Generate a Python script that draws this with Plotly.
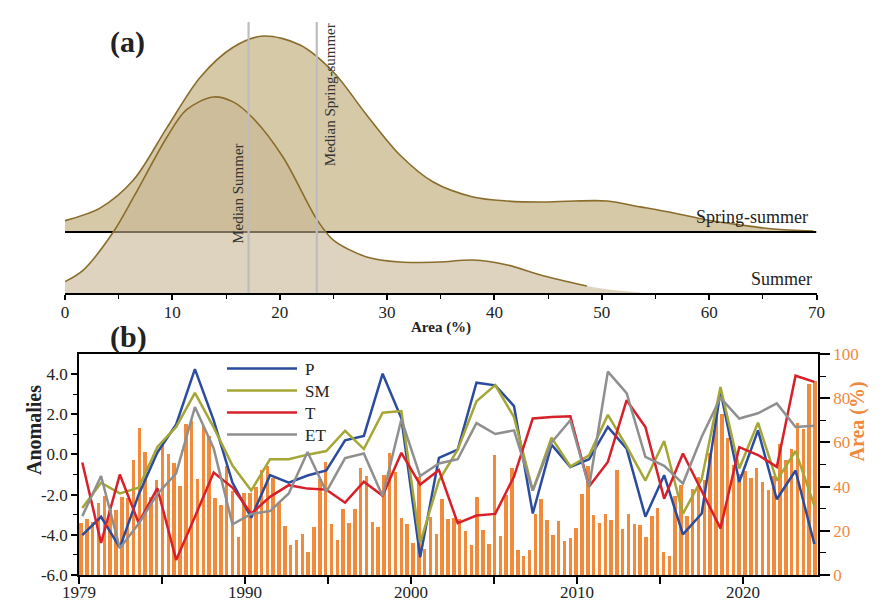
import plotly.graph_objects as go

# ---------------- Panel (a): ridgeline densities (heights normalised to peak) ----------------
spring_x = [0, 3.26, 6.37, 9.47, 12.6, 15.7, 18.5, 21.9, 25.0, 28.1, 31.2, 34.3, 38.0, 41.2,
            44.3, 47.4, 50.5, 53.6, 56.7, 59.8, 62.9, 66.0, 69.7]
spring_density = [0.058, 0.122, 0.265, 0.53, 0.79, 0.944, 1.0, 0.954, 0.816, 0.597, 0.393, 0.255,
                  0.179, 0.158, 0.153, 0.158, 0.158, 0.128, 0.097, 0.061, 0.036, 0.015, 0.005]
summer_x = [0, 1.7, 4.5, 6.4, 9.5, 11.3, 13.8, 15.7, 17.5, 20.3, 23.5, 25.0, 28.1, 31.2, 34.9,
            38.0, 41.2, 44.3, 48.6, 51.0, 53.6]
summer_density = [0.058, 0.117, 0.311, 0.49, 0.796, 0.934, 1.0, 0.974, 0.893, 0.694, 0.372, 0.27,
                  0.184, 0.158, 0.158, 0.168, 0.143, 0.092, 0.036, 0.015, 0.003]
summer_outline_end = 48.6
median_summer = 17.1
median_spring_summer = 23.45
area_ticks = [0, 10, 20, 30, 40, 50, 60, 70]

# ---------------- Panel (b): anomalies (lines) and area (bars) ----------------
year_tick_pos = [0, 10, 20, 30, 40]
year_tick_labels = ["1979", "1990", "2000", "2010", "2020"]
P = [-4.02, -3.10, -4.64, -2.0, 0.1, 1.5, 4.25, 1.7, -1.4, -3.15,
     -1.03, -1.40, -1.05, -0.79, 0.70, 0.92, 4.02, 1.8, -5.12, -0.17,
     0.24, 3.57, 3.44, 2.41, -2.94, 0.49, -0.62, -0.24, 1.37, 0.29,
     -3.1, -1.03, -3.98, -2.94, 3.14, -1.37, 1.2, -2.23, -0.8, -4.46]
SM = [-2.66, -1.41, -1.94, -1.66, 0.37, 1.37, 3.07, 1.35, -0.55, -1.8,
      -0.24, -0.24, -0.01, 0.17, 1.18, 0.27, 2.08, 2.16, -4.4, -1.3,
      0.24, 2.65, 3.45, 1.86, -1.8, 0.84, -0.6, -0.04, 1.97, 0.4,
      -1.3, 0.67, -2.95, -1.23, 3.36, -0.7, 1.58, -1.3, 0.17, -2.55]
T = [-0.4, -4.4, -1.0, -3.4, -1.68, -5.25, -3.1, -0.9, -1.65, -2.95,
     -2.11, -1.53, -1.7, -1.75, -2.4, -1.36, -2.06, 0.08, -1.5, -0.78,
     -3.42, -3.04, -2.96, -1.1, 1.79, 1.87, 1.9, -1.6, -0.37, 2.7,
     1.37, -2.2, 0.05, -1.8, -3.68, 0.36, -0.03, -0.62, 3.92, 3.61]
ET = [-3.07, -1.07, -4.67, -3.45, -1.97, -0.94, 2.36, 0.3, -3.48, -2.96,
      -2.82, -1.94, 0.12, -1.86, -0.18, 0.05, -2.08, 1.75, -1.08, -0.45,
      -0.24, 1.56, 1.02, 1.2, -1.8, 0.6, 1.7, -1.61, 4.12, 3.05,
      -0.12, -0.57, -1.45, 0.88, 2.82, 1.79, 2.05, 2.54, 1.37, 1.43]
area_pct = [23.5, 25.3, 24.2, 32.6, 35.9, 29.5, 29.5, 35.5, 34.8, 52,
            66.5, 55.8, 35.5, 43, 59, 54.7, 50.5, 40.4, 68.4, 69.5,
            43.3, 67.5, 63, 34.9, 31.5, 49.5, 38, 17.2, 37.3, 37.3,
            40, 47.5, 49.3, 43.9, 32.5, 22, 13.6, 16, 18.6, 10.3,
            21.5, 43.3, 51.2, 23.2, 15.9, 30, 23.5, 29.7, 48.2, 44.8,
            24.1, 21.7, 45.2, 55.2, 46.8, 25.9, 23.2, 14.4, 44.2, 11.8,
            26.2, 18.5, 34.2, 25.5, 25.8, 25.5, 19.8, 13.8, 35.3, 20.5,
            14.2, 54.5, 17.7, 36, 48.2, 11.1, 8.6, 11.4, 27.4, 34.4,
            25, 18.3, 24.4, 15.5, 16.7, 21.2, 36.8, 49.5, 27, 23.5,
            27.5, 25, 47.4, 21, 27.6, 22.9, 22.6, 17.1, 26.8, 30.3,
            10.3, 8.8, 35.6, 40.6, 26.5, 39.1, 44.4, 43.2, 55, 73,
            73, 62, 50, 45.8, 47, 43.8, 48.5, 42, 38.3, 45,
            59.2, 52, 57, 68.6, 65.9, 86.5, 88]
line_index = list(range(len(P)))
bar_index = list(range(len(area_pct)))

# ---------------- styling ----------------
W, H = 889, 603
SERIF = "Liberation Serif"
OUTLINE = "#8a6d2c"
SPRING_FILL = "#d6c9a7"
SUMMER_FILL = "rgba(200,182,147,0.6)"
MEDIAN_COL = "#bdbdbd"
C_P, C_SM, C_T, C_ET = "#2b4c9e", "#a4a635", "#d8202a", "#8f8f8f"
ORANGE = "#f28a3c"
ORANGE_TXT = "#ee8a40"

RIDGE_PX = 196.0          # pixel height of a normalised peak
SPRING_OFFSET = 61.0 / RIDGE_PX
A_TOP = 20
A_BASE = 293
B_TOP, B_BOT = 354, 575
B_LEFT, B_RIGHT = 79, 818


def fx(p):
    return p / W


def fy(p):
    return 1 - p / H


XD_B = [fx(B_LEFT), fx(B_RIGHT)]
YD_B = [fy(B_BOT), fy(B_TOP)]

fig = go.Figure()

# ---- panel (a) ----
fig.add_trace(go.Scatter(x=[spring_x[0], spring_x[-1]], y=[SPRING_OFFSET] * 2, mode="lines",
                         line=dict(width=0), hoverinfo="skip", xaxis="x", yaxis="y"))
fig.add_trace(go.Scatter(x=spring_x, y=[SPRING_OFFSET + d for d in spring_density], mode="lines",
                         line=dict(color=OUTLINE, width=1.6, shape="spline", smoothing=0.9),
                         fill="tonexty", fillcolor=SPRING_FILL, xaxis="x", yaxis="y"))
fig.add_trace(go.Scatter(x=[0, 70], y=[SPRING_OFFSET] * 2, mode="lines",
                         line=dict(color="black", width=2), xaxis="x", yaxis="y"))
fig.add_trace(go.Scatter(x=[summer_x[0], summer_x[-1]], y=[0, 0], mode="lines",
                         line=dict(width=0), hoverinfo="skip", xaxis="x", yaxis="y"))
fig.add_trace(go.Scatter(x=summer_x, y=summer_density, mode="lines",
                         line=dict(width=0, shape="spline", smoothing=0.9),
                         fill="tonexty", fillcolor=SUMMER_FILL, xaxis="x", yaxis="y"))
sx = [x for x in summer_x if x <= summer_outline_end]
sy = summer_density[:len(sx)]
fig.add_trace(go.Scatter(x=sx, y=sy, mode="lines",
                         line=dict(color=OUTLINE, width=1.6, shape="spline", smoothing=0.9),
                         xaxis="x", yaxis="y"))
y_top_a = (A_BASE - 22) / RIDGE_PX
for m in (median_summer, median_spring_summer):
    fig.add_trace(go.Scatter(x=[m, m], y=[0, y_top_a], mode="lines",
                             line=dict(color=MEDIAN_COL, width=2.2), xaxis="x", yaxis="y"))

# ---- panel (b) ----
# invisible anchor trace so the base subplot (x2, y2) is created
fig.add_trace(go.Scatter(x=[0], y=[0], mode="markers", marker=dict(opacity=0, size=1),
                         hoverinfo="skip", xaxis="x2", yaxis="y2"))
fig.add_trace(go.Bar(x=bar_index, y=area_pct, marker=dict(color=ORANGE, line=dict(width=0)),
                     width=0.6, xaxis="x3", yaxis="y3"))
for name, vals, col in (("P", P, C_P), ("SM", SM, C_SM), ("T", T, C_T), ("ET", ET, C_ET)):
    fig.add_trace(go.Scatter(x=line_index, y=vals, mode="lines", name=name,
                             line=dict(color=col, width=2.5), xaxis="x4", yaxis="y2"))

bar_step = 5.825
line_step = 18.77

fig.update_layout(
    width=W, height=H, margin=dict(l=0, r=0, t=0, b=0, autoexpand=False),
    paper_bgcolor="white", plot_bgcolor="rgba(0,0,0,0)", showlegend=False,
    font=dict(family=SERIF, size=17, color="#222"),
    bargap=0,
    xaxis=dict(domain=[fx(65), fx(816.5)], range=[0, 70], anchor="y", automargin=False,
               showline=True, linecolor="black", linewidth=1.5,
               ticks="outside", ticklen=5, tickwidth=1.5, tickcolor="black",
               tickvals=area_ticks, showgrid=False, zeroline=False,
               ticklabelstandoff=-2,
               minor=dict(tickvals=[5, 15, 25, 35, 45, 55, 65], ticks="outside", ticklen=4,
                          tickwidth=1.2, tickcolor="black"),
               tickfont=dict(size=17, family=SERIF, color="#222")),
    yaxis=dict(domain=[fy(A_BASE), fy(A_TOP)], range=[0, (A_BASE - A_TOP) / RIDGE_PX],
               visible=False, anchor="x", automargin=False),
    xaxis2=dict(domain=XD_B, range=[0, (B_RIGHT - B_LEFT) / 16.6], automargin=False,
                anchor="y2", showline=True, mirror=True, linecolor="black", linewidth=1.5,
                ticks="outside", ticklen=7, tickwidth=1.5, tickcolor="black",
                tickvals=year_tick_pos, ticktext=year_tick_labels,
                ticklabelstandoff=-6,
                minor=dict(tickvals=[5, 15, 25, 35], ticks="outside", ticklen=7,
                           tickwidth=1.5, tickcolor="black"),
                showgrid=False, zeroline=False,
                tickfont=dict(size=17, family=SERIF, color="#222")),
    yaxis2=dict(domain=YD_B, range=[-6, 5], anchor="x2", automargin=False,
                showline=True, linecolor="black", linewidth=1.5,
                ticks="outside", ticklen=6, tickwidth=1.5, tickcolor="black",
                tickvals=[-6, -4, -2, 0, 2, 4],
                ticktext=["-6.0", "-4.0", "-2.0", "0.0", "2.0", "4.0"],
                minor=dict(tickvals=[-5, -3, -1, 1, 3], ticks="outside", ticklen=4,
                           tickwidth=1.2, tickcolor="black"),
                showgrid=False, zeroline=False,
                tickfont=dict(size=17, family=SERIF, color="#222")),
    xaxis3=dict(domain=XD_B, overlaying="x2", anchor="y2", visible=False, automargin=False,
                range=[-2 / bar_step, (B_RIGHT - B_LEFT - 2) / bar_step]),
    xaxis4=dict(domain=XD_B, overlaying="x2", anchor="y2", visible=False, automargin=False,
                range=[-(82.3 - B_LEFT) / line_step, (B_RIGHT - 82.3) / line_step]),
    yaxis3=dict(domain=YD_B, overlaying="y2", anchor="x2", side="right", range=[0, 100],
                automargin=False,
                showline=True, linecolor="black", linewidth=1.5,
                ticks="outside", ticklen=10, tickwidth=1.5, tickcolor="black",
                tickvals=[0, 20, 40, 60, 80, 100],
                minor=dict(tickvals=[10, 30, 50, 70, 90], ticks="outside", ticklen=6,
                           tickwidth=1.2, tickcolor="black"),
                showgrid=False, zeroline=False,
                tickfont=dict(size=17, family=SERIF, color=ORANGE_TXT)),
)

ann = []
# panel letters
ann.append(dict(text="<b>(a)</b>", x=fx(108), y=fy(23), xref="paper", yref="paper",
                showarrow=False, font=dict(size=30, family=SERIF, color="#222")))
ann.append(dict(text="<b>(b)</b>", x=fx(108), y=fy(337), xref="paper", yref="paper",
                showarrow=False, font=dict(size=30, family=SERIF, color="#222")))
# panel (a) texts
ann.append(dict(text="<b>Area (%)</b>", x=fx(441), y=fy(327), xref="paper", yref="paper",
                showarrow=False, font=dict(size=15, family=SERIF, color="#222")))
ann.append(dict(text="Median Summer", x=16.1, y=(A_BASE - 194) / RIDGE_PX, xref="x", yref="y",
                textangle=-90, showarrow=False, font=dict(size=15, family=SERIF, color="#333")))
ann.append(dict(text="Median Spring-summer", x=24.7, y=(A_BASE - 95) / RIDGE_PX, xref="x",
                yref="y", textangle=-90, showarrow=False,
                font=dict(size=15, family=SERIF, color="#333")))
ann.append(dict(text="Spring-summer", x=69.4, y=(A_BASE - 217) / RIDGE_PX, xref="x", yref="y",
                xanchor="right", showarrow=False, font=dict(size=18, family=SERIF, color="#222")))
ann.append(dict(text="Summer", x=69.8, y=(A_BASE - 279) / RIDGE_PX, xref="x", yref="y",
                xanchor="right", showarrow=False, font=dict(size=18, family=SERIF, color="#222")))
# panel (b) axis titles
ann.append(dict(text="<b>Anomalies</b>", x=fx(21), y=fy(477), xref="paper", yref="paper",
                textangle=-90, showarrow=False, font=dict(size=20, family=SERIF, color="#222")))
ann.append(dict(text="<b>Area (%)</b>", x=fx(870), y=fy(464), xref="paper", yref="paper",
                textangle=-90, showarrow=False, font=dict(size=20, family=SERIF, color=ORANGE_TXT)))

# manual legend
shapes = []
for name, col, yy in (("P", C_P, 368.5), ("SM", C_SM, 390.5), ("T", C_T, 412.5), ("ET", C_ET, 434.5)):
    shapes.append(dict(type="line", xref="paper", yref="paper", x0=fx(227), x1=fx(297),
                       y0=fy(yy), y1=fy(yy), line=dict(color=col, width=2.5)))
    ann.append(dict(text=name, x=fx(303), y=fy(yy + 1), xref="paper", yref="paper",
                    xanchor="left", yanchor="middle", showarrow=False,
                    font=dict(size=17, family=SERIF, color="#222")))

fig.update_layout(annotations=ann, shapes=shapes)
fig.write_html("out.html")
